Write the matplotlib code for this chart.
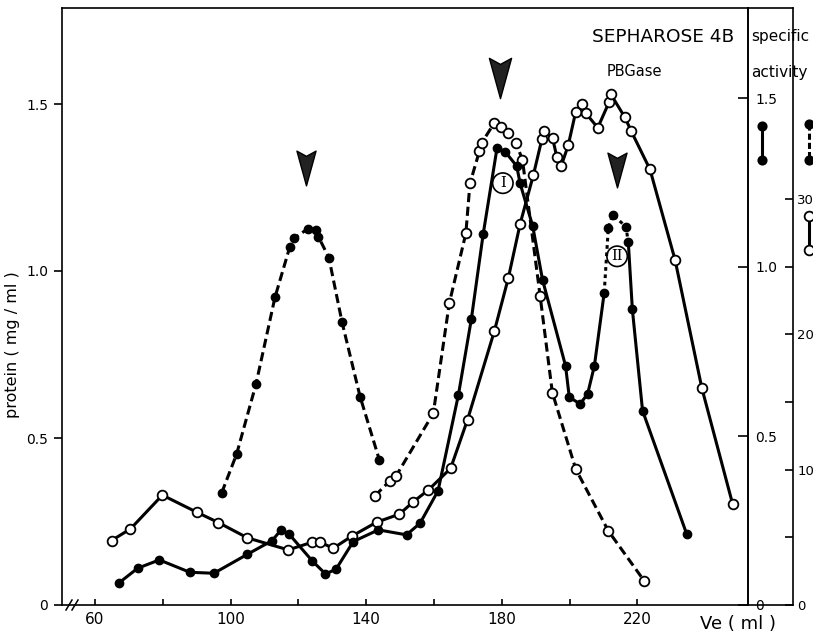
import matplotlib
matplotlib.use("Agg")
import matplotlib.pyplot as plt
import numpy as np
from matplotlib.lines import Line2D
from matplotlib.path import Path

# ---------------- data (Ve in ml, values in left-axis units) ----------------
open_solid_x = [64.9, 70.5, 79.9, 90.2, 96.4, 105.0, 117.0, 124.1, 126.4, 130.3, 135.9,
                143.1, 149.8, 153.9, 158.3, 164.9, 169.9, 177.8, 181.9, 185.4, 189.3,
                191.8, 192.5, 195.0, 196.2, 197.5, 199.6, 201.8, 203.6, 204.8, 208.3,
                211.7, 212.1, 216.3, 218.1, 223.7, 231.1, 239.0, 248.1]
open_solid_y = [0.193, 0.228, 0.329, 0.277, 0.247, 0.201, 0.165, 0.188, 0.188, 0.170, 0.207,
                0.248, 0.272, 0.309, 0.344, 0.409, 0.555, 0.820, 0.978, 1.141, 1.287,
                1.394, 1.419, 1.397, 1.342, 1.314, 1.377, 1.477, 1.500, 1.472, 1.429,
                1.507, 1.530, 1.460, 1.420, 1.304, 1.033, 0.649, 0.301]

filled_solid_x = [67.2, 72.6, 79.0, 88.0, 95.1, 105.0, 112.3, 114.9, 117.2, 124.1, 128.0,
                  131.1, 136.2, 143.6, 151.9, 155.9, 161.2, 167.2, 171.0, 174.5, 178.6,
                  181.0, 184.4, 185.4, 189.1, 192.0, 198.8, 199.9, 203.1, 205.3, 207.3,
                  210.2, 211.4, 212.7, 216.6, 217.3, 218.5, 221.5, 234.5]
filled_solid_y = [0.067, 0.110, 0.135, 0.098, 0.095, 0.152, 0.193, 0.225, 0.213, 0.132, 0.093,
                  0.107, 0.190, 0.225, 0.210, 0.245, 0.342, 0.629, 0.855, 1.110, 1.369,
                  1.357, 1.314, 1.262, 1.135, 0.974, 0.716, 0.622, 0.602, 0.632, 0.716,
                  0.935, 1.128, 1.168, 1.133, 1.086, 0.885, 0.582, 0.213]

filled_dash_x = [97.4, 101.8, 107.5, 113.1, 117.5, 118.8, 122.7, 125.1, 125.9, 129.0,
                 132.9, 138.2, 143.9]
filled_dash_y = [0.336, 0.452, 0.661, 0.921, 1.073, 1.098, 1.126, 1.123, 1.103, 1.040,
                 0.846, 0.624, 0.434]

open_dash_x = [142.6, 147.0, 148.8, 159.8, 164.5, 169.4, 170.6, 173.4, 174.1, 177.7,
               179.7, 181.9, 184.2, 186.1, 191.3, 194.9, 201.8, 211.4, 222.0]
open_dash_y = [0.327, 0.372, 0.386, 0.574, 0.903, 1.113, 1.262, 1.359, 1.384, 1.442,
               1.432, 1.412, 1.384, 1.332, 0.925, 0.636, 0.407, 0.222, 0.072]

x_ticks = [60, 80, 100, 120, 140, 160, 180, 200, 220]
x_ticklabels = ["60", "", "100", "", "140", "", "180", "", "220"]
left_ticks = [0, 0.5, 1.0, 1.5]
left_ticklabels = ["0", "0.5", "1.0", "1.5"]
right1_ticks = [0, 0.5, 1.0, 1.5]
right1_ticklabels = ["0", "0.5", "1.0", "1.5"]
right2_ticks = [0, 5, 10, 15, 20, 25, 30]
right2_ticklabels = ["0", "", "10", "", "20", "", "30"]

arrow_x = [122.3, 179.5, 214.1]
arrow_y = [1.308, 1.578, 1.302]
arrow_size = [25, 29, 25]
roman_x = [180.3, 214.0]
roman_y = [1.263, 1.044]
roman_txt = ["I", "II"]

# ---------------- figure ----------------
W, H = 813, 633
fig = plt.figure(figsize=(W / 100, H / 100), dpi=100)
L, R, B, T = 62, 748, 605, 8
ax = fig.add_axes([L / W, 1 - B / H, (R - L) / W, (B - T) / H])
ax.set_xlim(50.3, 252.6)
ax.set_ylim(0, (B - T) / 334.0)

lw = 2.2
ms_open = 7.0
ms_fill = 6.0

# open solid
ax.plot(open_solid_x, open_solid_y, '-', color='black', lw=lw, marker='o', ms=ms_open,
        mfc='white', mec='black', mew=1.3, zorder=4)

# filled solid, with the top of peak II dotted
fx = np.array(filled_solid_x)
fy = np.array(filled_solid_y)
i0 = filled_solid_x.index(210.2)
i1 = filled_solid_x.index(217.3)
ax.plot(fx[:i0 + 1], fy[:i0 + 1], '-', color='black', lw=lw, zorder=3)
ax.plot(fx[i1:], fy[i1:], '-', color='black', lw=lw, zorder=3)
ax.plot(fx[i0:i1 + 1], fy[i0:i1 + 1], color='black', lw=lw, dashes=(1.2, 1.2), zorder=3)
ax.plot(fx, fy, 'o', color='black', ms=ms_fill, zorder=5)

# filled dashed
ax.plot(filled_dash_x, filled_dash_y, color='black', lw=lw, dashes=(3, 1.5),
        marker='o', ms=ms_fill, mfc='black', mec='black', zorder=3)

# open dashed
ax.plot(open_dash_x, open_dash_y, color='black', lw=lw, dashes=(3, 1.5),
        marker='o', ms=ms_open, mfc='white', mec='black', mew=1.3, zorder=4)

# arrowheads
arrow_path = Path([(-0.55, 1.0), (0.0, 0.7), (0.55, 1.0), (0.0, -1.0), (-0.55, 1.0)],
                  [Path.MOVETO, Path.LINETO, Path.LINETO, Path.LINETO, Path.CLOSEPOLY])
for xa, ya, sa in zip(arrow_x, arrow_y, arrow_size):
    ax.plot([xa], [ya], marker=arrow_path, ms=sa, color='#222222', mec='black', zorder=6)

for xr, yr, tr in zip(roman_x, roman_y, roman_txt):
    ax.text(xr, yr, tr, ha='center', va='center', fontsize=10.5, family='DejaVu Serif',
            bbox=dict(boxstyle='circle,pad=0.22', fc='none', ec='black', lw=1.2), zorder=7)

# axes styling
for s in ['top', 'bottom', 'left', 'right']:
    ax.spines[s].set_linewidth(1.2)
ax.set_xticks(x_ticks)
ax.set_xticklabels(x_ticklabels, fontsize=11)
ax.tick_params(axis='x', direction='in', length=4, width=1.2, pad=5)
ax.set_yticks(left_ticks)
ax.set_yticklabels(left_ticklabels, fontsize=10)
ax.tick_params(axis='y', direction='out', length=6, width=1.2, pad=4)

# right axis 1
ax2 = ax.twinx()
ax2.set_ylim(0, (B - T) / 338.0)
ax2.set_yticks(right1_ticks)
ax2.set_yticklabels(right1_ticklabels, fontsize=10)
ax2.tick_params(axis='y', direction='in', length=7, width=1.2, pad=5)
for s in ['top', 'bottom', 'left', 'right']:
    ax2.spines[s].set_visible(False)
ax2.spines['right'].set_visible(True)
ax2.spines['right'].set_linewidth(1.2)

# right axis 2
ax3 = ax.twinx()
pos2 = (793 - L) / (R - L)
ax3.spines['right'].set_position(('axes', pos2))
ax3.set_ylim(0, (B - T) / 13.53)
ax3.set_yticks(right2_ticks)
ax3.set_yticklabels(right2_ticklabels, fontsize=9.5)
ax3.tick_params(axis='y', direction='in', length=6, width=1.2, pad=3)
for s in ['top', 'bottom', 'left']:
    ax3.spines[s].set_visible(False)
ax3.spines['right'].set_linewidth(1.2)

# extend top/bottom frame to the second right axis
for yy in (0, 1):
    ax.plot([1, pos2], [yy, yy], transform=ax.transAxes, color='black', lw=1.2, clip_on=False)

# axis break marks
for dx in (0, 6):
    fig.add_artist(Line2D([(66 + dx) / W, (72 + dx) / W], [1 - 610 / H, 1 - 600 / H],
                          color='black', lw=1.1))

# texts
fig.text(592 / W, 1 - 37 / H, "SEPHAROSE 4B", fontsize=13.3, va='center', ha='left')
fig.text(607 / W, 1 - 72 / H, "PBGase", fontsize=10.5, va='center', ha='left')
fig.text(751 / W, 1 - 37 / H, "specific", fontsize=11, va='center', ha='left')
fig.text(751 / W, 1 - 73 / H, "activity", fontsize=11, va='center', ha='left')
fig.text(700 / W, 1 - 624 / H, "Ve ( ml )", fontsize=13, va='center', ha='left')
fig.text(13 / W, 1 - 345 / H, "protein ( mg / ml )", fontsize=11.5, va='center', ha='center',
         rotation=90)

# legend keys at the right
def key(x, y0, y1, filled, dashed):
    ln = Line2D([x / W, x / W], [1 - y0 / H, 1 - y1 / H], color='black', lw=lw,
                marker='o', ms=ms_fill if filled else ms_open,
                mfc='black' if filled else 'white', mec='black', mew=1.3)
    if dashed:
        ln.set_dashes((2, 1))
    fig.add_artist(ln)

key(762, 126, 160, True, False)
key(809, 124, 160, True, True)
key(809, 216, 250, False, False)

fig.savefig("out.png", dpi=100)
